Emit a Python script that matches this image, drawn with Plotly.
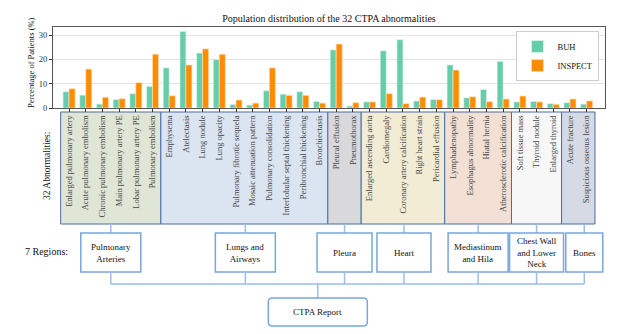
import plotly.graph_objects as go

# --- data ---
abnormalities = [
    "Enlarged pulmonary artery", "Acute pulmonary embolism", "Chronic pulmonary embolism",
    "Main pulmonary artery PE", "Lobar pulmonary artery PE", "Pulmonary embolism",
    "Emphysema", "Atelectasis", "Lung nodule", "Lung opacity",
    "Pulmonary fibrotic sequela", "Mosaic attenuation pattern", "Pulmonary consolidation",
    "Interlobular septal thickening", "Peribronchial thickening", "Bronchiectasis",
    "Pleural effusion", "Pneumothorax",
    "Enlarged ascending aorta", "Cardiomegaly", "Coronary artery calcification",
    "Right heart strain", "Pericardial effusion",
    "Lymphadenopathy", "Esophagus abnormality", "Hiatal hernia", "Atherosclerotic calcification",
    "Soft tissue mass", "Thyroid nodule", "Enlarged thyroid",
    "Acute fracture", "Suspicious osseous lesion",
]
buh = [6.7, 5.3, 1.6, 3.5, 5.9, 8.9, 16.5, 31.5, 22.6, 19.9,
       1.5, 1.2, 7.1, 5.7, 6.7, 2.7, 23.9, 0.8,
       2.5, 23.5, 28.1, 2.9, 3.5, 17.7, 4.2, 7.6, 19.2,
       2.5, 2.7, 1.8, 2.2, 1.6]
inspect = [7.9, 16.0, 4.4, 3.8, 10.4, 22.1, 5.0, 17.7, 24.3, 22.1,
           3.3, 2.0, 16.5, 5.2, 5.2, 2.0, 26.3, 2.2,
           2.5, 5.9, 1.8, 4.5, 3.4, 15.6, 4.6, 2.6, 3.7,
           4.9, 2.5, 1.5, 3.7, 2.9]

regions = ["Pulmonary<br>Arteries", "Lungs and<br>Airways", "Pleura", "Heart",
           "Mediastinum<br>and Hila", "Chest Wall<br>and Lower<br>Neck", "Bones"]
region_sizes = [6, 10, 2, 5, 4, 3, 2]
region_fills = ["#dfe6d5", "#dbe5f1", "#d9d9dc", "#f3ecd5", "#f2e0d5", "#f7f7f7", "#d5dae4"]
region_box_w = [60, 60, 55, 54, 60, 54, 37]
region_box_dx = [0, 1, 0, 1, 0, 0, 6]

# --- layout constants (pixels) ---
W, H = 634, 334
PLOT_LEFT, PLOT_RIGHT = 53, 605
PLOT_TOP, PLOT_BOTTOM = 27, 108
SERIF = "'Liberation Serif', 'DejaVu Serif', 'Times New Roman', serif"
BOX_LINE = "#4a6da8"
CONN = "#9dbde6"
RBOX = "#7aa6dc"
X_RANGE = [-0.96, 32.1]
PX_PER_CAT = (PLOT_RIGHT - PLOT_LEFT) / (X_RANGE[1] - X_RANGE[0])


def py(p):
    # pixel row -> paper y
    return (PLOT_BOTTOM - p) / (PLOT_BOTTOM - PLOT_TOP)


def px(p):
    # pixel column -> paper x
    return (p - PLOT_LEFT) / (PLOT_RIGHT - PLOT_LEFT)


fig = go.Figure()
fig.add_trace(go.Bar(x=abnormalities, y=buh, name="BUH",
                     marker=dict(color="#66cdaa", line=dict(color="#e8f7f1", width=0.6))))
fig.add_trace(go.Bar(x=abnormalities, y=inspect, name="INSPECT",
                     marker=dict(color="#ff8c00", line=dict(color="#ffe2bf", width=0.6))))

shapes = []
annotations = []

# colored region bands behind the rotated labels, plus connectors / region boxes
start = -0.5
centers = []
for name, size, fill, bw, dx in zip(regions, region_sizes, region_fills, region_box_w, region_box_dx):
    end = start + size
    mid = (start + end) / 2
    centers.append((mid, dx))
    shapes.append(dict(type="rect", xref="x", yref="paper", x0=start, x1=end,
                       y0=py(224), y1=py(112), fillcolor=fill,
                       line=dict(color=BOX_LINE, width=1), layer="below"))
    # connector band -> region box
    shapes.append(dict(type="line", xref="x", yref="paper", xsizemode="pixel", xanchor=mid,
                       x0=dx, x1=dx, y0=py(224), y1=py(233), line=dict(color=CONN, width=1.5)))
    # region box
    shapes.append(dict(type="rect", xref="x", yref="paper", xsizemode="pixel", xanchor=mid,
                       x0=dx - bw / 2, x1=dx + bw / 2, y0=py(272), y1=py(233),
                       fillcolor="white", line=dict(color=RBOX, width=1.5)))
    annotations.append(dict(text=name, xref="x", yref="paper", x=mid, xshift=dx,
                            y=py(252.5), yanchor="middle", xanchor="center", showarrow=False,
                            font=dict(family=SERIF, size=9, color="#111")))
    # region box -> trunk
    shapes.append(dict(type="line", xref="x", yref="paper", xsizemode="pixel", xanchor=mid,
                       x0=dx, x1=dx, y0=py(272), y1=py(284), line=dict(color=CONN, width=1.5)))
    start = end

# horizontal trunk
first_mid, first_dx = centers[0]
last_mid, last_dx = centers[-1]
shapes.append(dict(type="line", xref="x", yref="paper", x0=first_mid,
                   x1=last_mid + last_dx / PX_PER_CAT,
                   y0=py(284), y1=py(284), line=dict(color=CONN, width=1.5)))

# CTPA report box (rounded)
ctpa_x = 14.9
shapes.append(dict(type="line", xref="x", yref="paper", x0=ctpa_x, x1=ctpa_x,
                   y0=py(284), y1=py(298), line=dict(color=CONN, width=1.5)))
hw, hh, r = 49.5, 14, 4
path = (f"M{-hw + r},{-hh} L{hw - r},{-hh} Q{hw},{-hh} {hw},{-hh + r} "
        f"L{hw},{hh - r} Q{hw},{hh} {hw - r},{hh} L{-hw + r},{hh} "
        f"Q{-hw},{hh} {-hw},{hh - r} L{-hw},{-hh + r} Q{-hw},{-hh} {-hw + r},{-hh} Z")
shapes.append(dict(type="path", xref="x", yref="paper", xsizemode="pixel", ysizemode="pixel",
                   xanchor=ctpa_x, yanchor=py(312), path=path, fillcolor="white",
                   line=dict(color=RBOX, width=1.5)))
annotations.append(dict(text="CTPA Report", xref="x", yref="paper", x=ctpa_x, y=py(312),
                        yanchor="middle", xanchor="center", showarrow=False,
                        font=dict(family=SERIF, size=9, color="#111")))

# side labels
annotations.append(dict(text="32 Abnormalities:", xref="paper", yref="paper", x=px(47),
                        y=py(166), textangle=-90, showarrow=False,
                        xanchor="center", yanchor="middle",
                        font=dict(family=SERIF, size=9.5, color="#111")))
annotations.append(dict(text="7 Regions:", xref="paper", yref="paper", x=px(46),
                        y=py(251), showarrow=False, xanchor="center", yanchor="middle",
                        font=dict(family=SERIF, size=10, color="#111")))
annotations.append(dict(text="Percentage of Patients (%)", xref="paper", yref="paper",
                        x=px(31), y=py(63), textangle=-90, showarrow=False,
                        xanchor="center", yanchor="middle",
                        font=dict(family=SERIF, size=8.5, color="#111")))

fig.update_layout(
    width=W, height=H,
    margin=dict(l=PLOT_LEFT, r=W - PLOT_RIGHT, t=PLOT_TOP, b=H - PLOT_BOTTOM),
    paper_bgcolor="white", plot_bgcolor="white",
    barmode="group", bargap=0.28, bargroupgap=0,
    title=dict(text="Population distribution of the 32 CTPA abnormalities",
               x=0.5, xref="paper", xanchor="center", y=1 - 18 / H, yanchor="middle",
               font=dict(family=SERIF, size=10, color="#111")),
    font=dict(family=SERIF, color="#333"),
    legend=dict(x=0.99, y=0.95, xanchor="right", yanchor="top",
                bgcolor="white", bordercolor="#cccccc", borderwidth=1,
                font=dict(family=SERIF, size=8.5, color="#111"),
                itemwidth=30, tracegroupgap=0),
    shapes=shapes, annotations=annotations,
)
fig.update_xaxes(
    range=X_RANGE, automargin=False, tickangle=-90, ticks="outside", ticklen=3,
    tickcolor="#333", tickfont=dict(family=SERIF, size=8.5, color="#444"),
    showline=True, linecolor="#555", linewidth=1, mirror=True, showgrid=False,
)
fig.update_yaxes(
    range=[0, 33.3], automargin=False, tickvals=[0, 10, 20, 30], ticks="outside", ticklen=3,
    tickcolor="#333", tickfont=dict(family=SERIF, size=8.5, color="#333"),
    showline=True, linecolor="#555", linewidth=1, mirror=True,
    showgrid=True, gridcolor="#e3e3e3", zeroline=False,
)

# the page's default body margin would shift the figure by 8px
fig.write_html("out.html", config={"displayModeBar": False},
               post_script="document.body.style.margin='0';")
